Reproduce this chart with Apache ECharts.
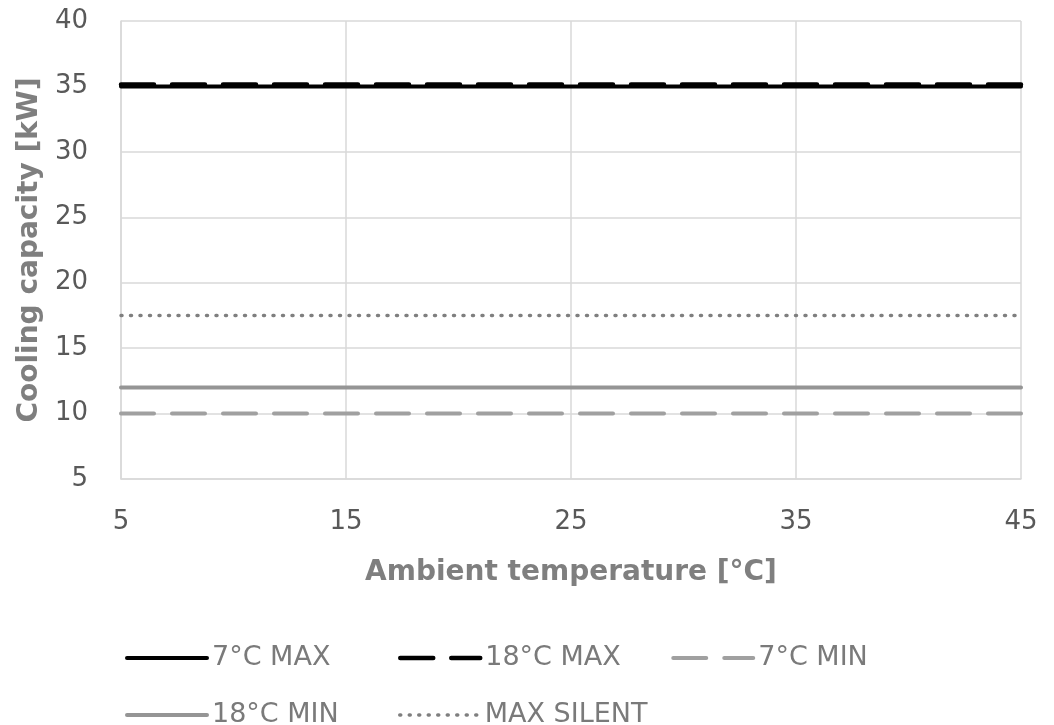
<!DOCTYPE html>
<html>
<head>
<meta charset="utf-8">
<script src="https://cdn.jsdelivr.net/npm/echarts@6/dist/echarts.min.js"></script>
<style>
html,body{margin:0;padding:0;background:#fff;}
#chart{width:1054px;height:725px;}
</style>
</head>
<body>
<div id="chart"></div>
<script>
// Data
const xCategories = ['5', '15', '25', '35', '45'];
const yTicks = { min: 5, max: 40, interval: 5 };
const seriesNames = ['7°C MAX', '18°C MAX', '7°C MIN', '18°C MIN', 'MAX SILENT'];
const max7 = [35, 35, 35, 35, 35];
const max18 = [35.15, 35.15, 35.15, 35.15, 35.15];
const min7 = [10, 10, 10, 10, 10];
const min18 = [12, 12, 12, 12, 12];
const maxSilent = [17.5, 17.5, 17.5, 17.5, 17.5];
const xTitle = 'Ambient temperature [°C]';
const yTitle = 'Cooling capacity [kW]';

const FONT = 'DejaVu Sans';
const chart = echarts.init(document.getElementById('chart'), null, { renderer: 'canvas' });

function line(name, data, color, width, dash, z) {
  return {
    name, type: 'line', data, z,
    symbol: 'none',
    lineStyle: { color, width, type: dash, cap: 'round' },
    itemStyle: { color },
    emphasis: { disabled: true },
    animation: false
  };
}

const legendText = { color: '#7a7a7a', fontFamily: FONT, fontSize: 27, width: 184, lineHeight: 30 };
const legendLine = { width: 'inherit', type: 'inherit', cap: 'inherit', color: 'inherit' };

const option = {
  backgroundColor: '#ffffff',
  animation: false,
  grid: { left: 121, right: 33, top: 21, bottom: 246, containLabel: false },
  legend: [
    {
      data: seriesNames.slice(0, 3), left: 125, top: 643, orient: 'horizontal', padding: 0,
      itemWidth: 80, itemHeight: 30, itemGap: 2,
      itemStyle: { opacity: 0 },
      lineStyle: legendLine,
      textStyle: legendText
    },
    {
      data: seriesNames.slice(3), left: 125, top: 700, orient: 'horizontal', padding: 0,
      itemWidth: 80, itemHeight: 30, itemGap: 2,
      itemStyle: { opacity: 0 },
      lineStyle: legendLine,
      textStyle: legendText
    }
  ],
  xAxis: {
    type: 'category', data: xCategories, boundaryGap: false,
    name: xTitle, nameLocation: 'middle', nameGap: 80,
    nameTextStyle: { color: '#7f7f7f', fontFamily: FONT, fontSize: 28, fontWeight: 'bold' },
    axisLine: { show: true, lineStyle: { color: '#d9d9d9', width: 1.5 } },
    axisTick: { show: false },
    axisLabel: { color: '#595959', fontFamily: FONT, fontSize: 26, margin: 30 },
    splitLine: { show: true, lineStyle: { color: '#d9d9d9', width: 1.5 } }
  },
  yAxis: {
    type: 'value', min: yTicks.min, max: yTicks.max, interval: yTicks.interval,
    name: yTitle, nameLocation: 'middle', nameGap: 72,
    nameTextStyle: { color: '#7f7f7f', fontFamily: FONT, fontSize: 28, fontWeight: 'bold' },
    axisLine: { show: true, lineStyle: { color: '#d9d9d9', width: 1.5 } },
    axisTick: { show: false },
    axisLabel: { color: '#595959', fontFamily: FONT, fontSize: 26, margin: 33 },
    splitLine: { show: true, lineStyle: { color: '#d9d9d9', width: 1.5 } }
  },
  series: [
    line(seriesNames[0], max7, '#000000', 4, 'solid', 3),
    line(seriesNames[1], max18, '#000000', 4.5, [33, 18], 4),
    line(seriesNames[2], min7, '#a0a0a0', 4, [33, 18], 2),
    line(seriesNames[3], min18, '#959595', 4, 'solid', 2),
    line(seriesNames[4], maxSilent, '#7f7f7f', 3.5, [1, 8.5], 2)
  ]
};
chart.setOption(option);
</script>
</body>
</html>
